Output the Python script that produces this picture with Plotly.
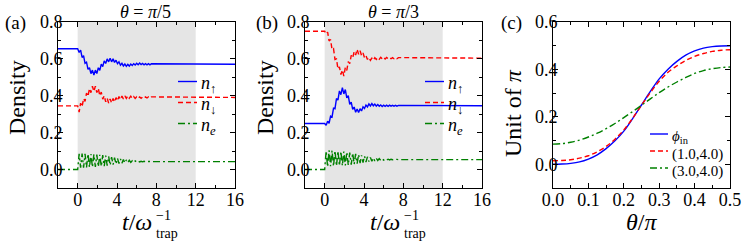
import plotly.graph_objects as go

# ---------------- data ----------------
# time grid (units of 1/omega_trap) for panels (a) and (b)
T = [-2.0, 0.0, 0.15, 0.3, 0.45, 0.6, 0.75, 0.9, 1.05, 1.2, 1.35, 1.5, 1.65, 1.8, 1.95,
     2.1, 2.25, 2.4, 2.55, 2.7, 2.85, 3.0, 3.15, 3.3, 3.45, 3.6, 3.75, 3.9, 4.05, 4.2,
     4.35, 4.5, 4.65, 4.8, 4.95, 5.1, 5.25, 5.4, 5.55, 5.7, 5.85, 6.0, 6.15, 6.3, 6.45,
     6.6, 6.75, 6.9, 7.05, 7.2, 7.35, 7.5, 16.0]

# panel (a): theta = pi/5
A_UP = [0.655, 0.655, 0.635, 0.647, 0.608, 0.617, 0.576, 0.582, 0.543, 0.552, 0.520, 0.539,
        0.513, 0.539, 0.521, 0.552, 0.538, 0.572, 0.558, 0.589, 0.575, 0.600, 0.584, 0.603,
        0.584, 0.600, 0.581, 0.593, 0.574, 0.584, 0.566, 0.576, 0.562, 0.572, 0.560, 0.570,
        0.561, 0.572, 0.564, 0.574, 0.567, 0.576, 0.568, 0.577, 0.569, 0.575, 0.568, 0.574,
        0.568, 0.574, 0.568, 0.574, 0.571]
A_DN = [0.345, 0.345, 0.312, 0.360, 0.340, 0.385, 0.370, 0.415, 0.397, 0.439, 0.417, 0.452,
        0.424, 0.452, 0.417, 0.440, 0.400, 0.420, 0.382, 0.400, 0.367, 0.387, 0.360, 0.383,
        0.361, 0.385, 0.366, 0.390, 0.373, 0.396, 0.380, 0.398, 0.383, 0.399, 0.386, 0.400,
        0.387, 0.398, 0.386, 0.396, 0.386, 0.395, 0.386, 0.394, 0.386, 0.393, 0.387, 0.394,
        0.388, 0.394, 0.388, 0.394, 0.391]
A_E = [0.000, 0.000, 0.085, 0.010, 0.086, 0.010, 0.085, 0.011, 0.085, 0.012, 0.084, 0.013,
       0.082, 0.014, 0.081, 0.015, 0.080, 0.017, 0.078, 0.019, 0.075, 0.021, 0.072, 0.024,
       0.068, 0.027, 0.065, 0.030, 0.061, 0.032, 0.058, 0.034, 0.055, 0.036, 0.052, 0.038,
       0.050, 0.039, 0.048, 0.040, 0.047, 0.041, 0.046, 0.041, 0.045, 0.042, 0.045, 0.042,
       0.044, 0.042, 0.044, 0.043, 0.043]

# panel (b): theta = pi/3
B_UP = [0.250, 0.250, 0.240, 0.262, 0.250, 0.290, 0.285, 0.333, 0.330, 0.385, 0.377, 0.426,
        0.406, 0.444, 0.410, 0.434, 0.388, 0.401, 0.354, 0.365, 0.326, 0.339, 0.311, 0.328,
        0.309, 0.330, 0.318, 0.340, 0.331, 0.350, 0.340, 0.356, 0.345, 0.358, 0.346, 0.355,
        0.344, 0.352, 0.343, 0.350, 0.342, 0.349, 0.343, 0.349, 0.343, 0.349, 0.344, 0.348,
        0.344, 0.348, 0.344, 0.348, 0.346]
B_DN = [0.750, 0.750, 0.735, 0.745, 0.697, 0.705, 0.650, 0.655, 0.597, 0.600, 0.545, 0.557,
        0.515, 0.540, 0.507, 0.553, 0.538, 0.585, 0.574, 0.619, 0.605, 0.640, 0.621, 0.652,
        0.625, 0.644, 0.618, 0.632, 0.607, 0.618, 0.597, 0.608, 0.592, 0.604, 0.593, 0.606,
        0.597, 0.608, 0.599, 0.609, 0.600, 0.608, 0.600, 0.608, 0.601, 0.607, 0.601, 0.607,
        0.601, 0.607, 0.601, 0.607, 0.604]
B_E = [0.000, 0.000, 0.100, 0.015, 0.104, 0.018, 0.103, 0.018, 0.102, 0.019, 0.100, 0.020,
       0.098, 0.021, 0.097, 0.022, 0.095, 0.024, 0.092, 0.026, 0.089, 0.029, 0.085, 0.032,
       0.081, 0.035, 0.077, 0.038, 0.073, 0.041, 0.069, 0.043, 0.066, 0.045, 0.063, 0.047,
       0.061, 0.049, 0.059, 0.050, 0.058, 0.051, 0.057, 0.052, 0.056, 0.052, 0.056, 0.053,
       0.055, 0.053, 0.055, 0.054, 0.054]

DRIVE_ON, DRIVE_OFF = 0, 12

# panel (c)
THETA = [0.0, 0.025, 0.05, 0.075, 0.1, 0.125, 0.15, 0.175, 0.2, 0.225, 0.25, 0.275, 0.3,
         0.325, 0.35, 0.375, 0.4, 0.425, 0.45, 0.475, 0.5]
PHI_IN = [0.000, 0.001, 0.004, 0.010, 0.022, 0.040, 0.066, 0.099, 0.140, 0.193, 0.250,
          0.307, 0.360, 0.401, 0.434, 0.460, 0.478, 0.490, 0.496, 0.499, 0.500]
PHI_1_4 = [0.015, 0.016, 0.019, 0.026, 0.036, 0.053, 0.075, 0.106, 0.145, 0.194, 0.249,
           0.302, 0.350, 0.388, 0.415, 0.438, 0.455, 0.467, 0.476, 0.481, 0.483]
PHI_3_4 = [0.085, 0.087, 0.093, 0.102, 0.115, 0.131, 0.150, 0.172, 0.197, 0.222, 0.249,
           0.276, 0.302, 0.326, 0.347, 0.366, 0.383, 0.395, 0.403, 0.408, 0.410]

NAMES_AB = ["<i>n</i><sub>↑</sub>", "<i>n</i><sub>↓</sub>", "<i>n</i><sub><i>e</i></sub>"]
NAMES_C = ["<i>ϕ</i><sub>in</sub>", "(1.0,4.0)", "(3.0,4.0)"]

# ---------------- style ----------------
W, H = 747, 244
FONT = "Liberation Serif"
BLUE, RED, GREEN = "#0000ff", "#ff0000", "#008000"
RED_DASH = "5px,3px"
GREEN_DASH = "7px,3px,2px,3px"
LW = 1.4
STYLES = [(BLUE, "solid"), (RED, RED_DASH), (GREEN, GREEN_DASH)]


def px(x):
    return x / W


def py(y):
    return 1 - y / H


fig = go.Figure()

for ys, xa, ya in [((A_UP, A_DN, A_E), "x", "y"), ((B_UP, B_DN, B_E), "x2", "y2")]:
    for vals, (col, dash), name in zip(ys, STYLES, NAMES_AB):
        fig.add_trace(go.Scatter(x=T, y=vals, mode="lines", name=name, showlegend=False,
                                 line=dict(color=col, width=LW, dash=dash),
                                 xaxis=xa, yaxis=ya))

for vals, (col, dash), name in zip((PHI_IN, PHI_1_4, PHI_3_4), STYLES, NAMES_C):
    fig.add_trace(go.Scatter(x=THETA, y=vals, mode="lines", name=name, showlegend=False,
                             line=dict(color=col, width=LW, dash=dash, shape="spline"),
                             xaxis="x3", yaxis="y3"))


def axis(domain, anchor, rng, dtick, mdtick, fmt, standoff):
    return dict(domain=domain, anchor=anchor, range=rng, dtick=dtick, tick0=0,
                tickformat=fmt, showline=True, linecolor="black", linewidth=1,
                mirror="allticks", ticks="inside", ticklen=5, tickwidth=1,
                tickcolor="black", showgrid=False, zeroline=False, automargin=False,
                ticklabelstandoff=standoff,
                tickfont=dict(family=FONT, size=18, color="black"),
                minor=dict(ticks="inside", ticklen=3, tickwidth=1, tickcolor="black",
                           dtick=mdtick, showgrid=False))


YD = [py(188), py(22)]
XS, YS = -5, -9
fig.update_layout(
    xaxis=axis([px(58), px(235)], "y", [-2, 16], 4, 2, "d", XS),
    yaxis=axis(YD, "x", [-0.1, 0.8], 0.2, 0.1, ".1f", YS),
    xaxis2=axis([px(305), px(482)], "y2", [-2, 16], 4, 2, "d", XS),
    yaxis2=axis(YD, "x2", [-0.1, 0.8], 0.2, 0.1, ".1f", YS),
    xaxis3=axis([px(553), px(730)], "y3", [0, 0.5], 0.1, 0.05, ".1f", XS),
    yaxis3=axis(YD, "x3", [-0.1, 0.6], 0.2, 0.1, ".1f", YS),
)

for xr in ("x", "x2"):
    fig.add_shape(type="rect", xref=xr, yref=xr.replace("x", "y") + " domain",
                  x0=DRIVE_ON, x1=DRIVE_OFF, y0=0, y1=1, fillcolor="#e5e5e5",
                  line=dict(width=0), layer="below")


def ann(text, x, y, size, xanchor="center", yanchor="middle", angle=0):
    fig.add_annotation(text=text, x=px(x), y=py(y), xref="paper", yref="paper",
                       showarrow=False, xanchor=xanchor, yanchor=yanchor, textangle=angle,
                       font=dict(family=FONT, size=size, color="black"))


# legends (key line + label), drawn in window pixels
def legend(x0, x1, ys, names, size):
    for (col, dash), name, y in zip(STYLES, names, ys):
        fig.add_shape(type="line", xref="paper", yref="paper", x0=px(x0), x1=px(x1),
                      y0=py(y), y1=py(y), line=dict(color=col, width=LW, dash=dash))
        ann(name, x1 + 2, y + 3, size, xanchor="left")


legend(178, 197, [81.5, 102.5, 123.5], NAMES_AB, 18)
legend(425, 444, [81.5, 102.5, 123.5], NAMES_AB, 18)
legend(650, 668, [134, 151, 168], NAMES_C, 15)

# panel labels
ann("(a)", 3, 23, 19, xanchor="left")
ann("(b)", 254, 23, 19, xanchor="left")
ann("(c)", 499, 23, 19, xanchor="left")
# titles
ann("<i>θ</i> = <i>π</i>/5", 145, 12, 18)
ann("<i>θ</i> = <i>π</i>/3", 393, 12, 18)
# y titles
ann("Density", 17, 98, 24, angle=-90)
ann("Density", 265, 98, 24, angle=-90)
ann("Unit of <i>π</i>", 513, 113, 24, angle=-90)
# x titles
for off in (0, 248):
    ann("<i>t</i>/<i>ω</i>", 154 + off, 222, 24, xanchor="right")
    ann("−1", 154 + off, 215, 14, xanchor="left")
    ann("trap", 154 + off, 233, 14, xanchor="left")
ann("<i>θ</i>/<i>π</i>", 641, 222, 24)

fig.update_layout(width=W, height=H, margin=dict(l=0, r=0, t=0, b=0),
                  font=dict(family=FONT, color="black"),
                  paper_bgcolor="white", plot_bgcolor="white", showlegend=False)

# the page body has a default 8px margin; remove it so the figure fills the window
fig.write_html("out.html", config={"displayModeBar": False},
               post_script="document.body.style.margin='0px';"
                           "document.body.style.overflow='hidden';")
